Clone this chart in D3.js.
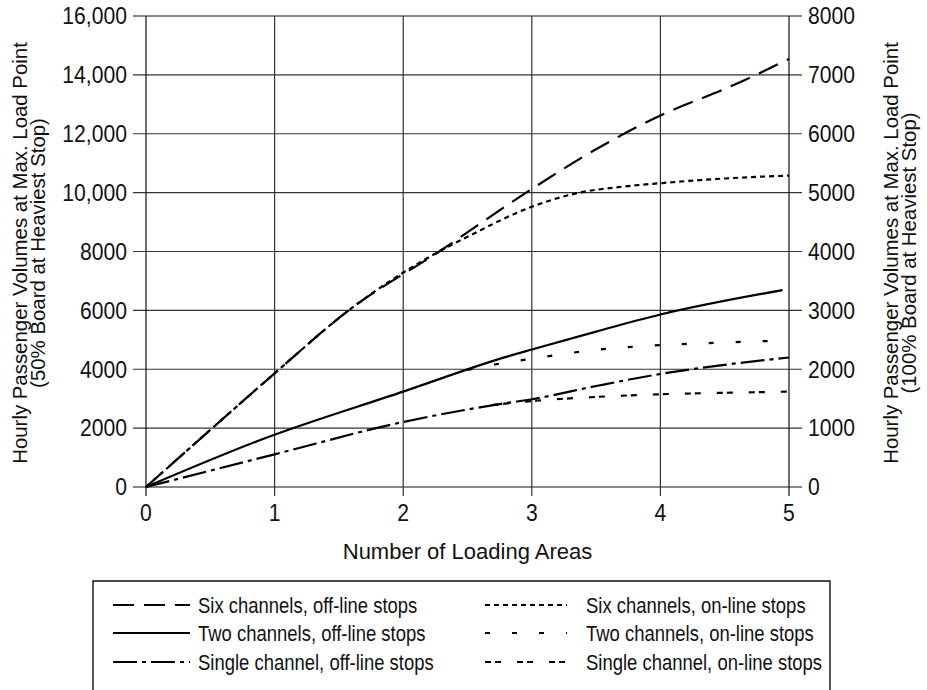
<!DOCTYPE html>
<html>
<head>
<meta charset="utf-8">
<script src="https://cdn.jsdelivr.net/npm/d3@7"></script>
<style>
  html, body { margin: 0; padding: 0; background: #fff; }
  svg { display: block; }
  text { font-family: "Liberation Sans", Arial, sans-serif; fill: #111; }
</style>
</head>
<body>
<svg id="chart" width="927" height="690"></svg>
<script>
// ---- Data ----
const xTicks = [0, 1, 2, 3, 4, 5];
const leftTicks = [0, 2000, 4000, 6000, 8000, 10000, 12000, 14000, 16000];
const leftTickLabels = ["0", "2000", "4000", "6000", "8000", "10,000", "12,000", "14,000", "16,000"];
const rightTicks = [0, 1000, 2000, 3000, 4000, 5000, 6000, 7000, 8000];
const rightTickLabels = ["0", "1000", "2000", "3000", "4000", "5000", "6000", "7000", "8000"];

const sixOffX = [0, 0.5, 1, 1.576, 2.28, 2.956, 3.51, 4.03, 4.5, 5];
const sixOffY = [0, 1940, 3860, 6000, 8000, 10000, 11500, 12680, 13520, 14540];
const sixOnX = [0, 0.5, 1, 1.576, 2.3, 2.5, 3, 3.35, 3.7, 4, 4.5, 5];
const sixOnY = [0, 1940, 3860, 6000, 8050, 8500, 9520, 9980, 10200, 10320, 10480, 10580];
const twoOffX = [0, 0.94, 2, 2.8, 3, 3.5, 4, 4.95];
const twoOffY = [0, 1680, 3240, 4420, 4670, 5280, 5860, 6690];
const twoOnX = [2.5, 2.75, 3, 3.5, 4, 4.5, 4.85];
const twoOnY = [3980, 4190, 4360, 4660, 4820, 4910, 4960];
const singleOffX = [0, 1, 2, 2.8, 3, 3.5, 4, 4.5, 5];
const singleOffY = [0, 1110, 2210, 2850, 2980, 3430, 3840, 4150, 4400];
const singleOnX = [2.7, 3, 3.5, 4, 4.5, 5];
const singleOnY = [2790, 2920, 3060, 3150, 3200, 3240];

const seriesNames = [
  "Six channels, off-line stops", "Two channels, off-line stops", "Single channel, off-line stops",
  "Six channels, on-line stops", "Two channels, on-line stops", "Single channel, on-line stops"
];

const xTitle = "Number of Loading Areas";
const leftTitle = ["Hourly Passenger Volumes at Max. Load Point", "(50% Board at Heaviest Stop)"];
const rightTitle = ["Hourly Passenger Volumes at Max. Load Point", "(100% Board at Heaviest Stop)"];

// ---- Styles ----
const dashes = {
  sixOff: "21,10",
  twoOff: null,
  singleOff: "24,5,4,5",
  sixOn: "5,4",
  twoOn: "5,22",
  singleOn: "6,4,6,16"
};

const series = [
  { key: "sixOff", x: sixOffX, y: sixOffY, name: seriesNames[0] },
  { key: "twoOff", x: twoOffX, y: twoOffY, name: seriesNames[1] },
  { key: "singleOff", x: singleOffX, y: singleOffY, name: seriesNames[2] },
  { key: "sixOn", x: sixOnX, y: sixOnY, name: seriesNames[3] },
  { key: "twoOn", x: twoOnX, y: twoOnY, name: seriesNames[4] },
  { key: "singleOn", x: singleOnX, y: singleOnY, name: seriesNames[5] }
];

const svg = d3.select("#chart");
const L = 146, R = 789, T = 16, B = 487;

const x = d3.scaleLinear().domain([0, 5]).range([L, R]);
const yL = d3.scaleLinear().domain([0, 16000]).range([B, T]);
const yR = d3.scaleLinear().domain([0, 8000]).range([B, T]);

// condensed text helper
function ctext(g, px, py, str, size, sx, anchor) {
  return g.append("text")
    .attr("transform", `translate(${px},${py}) scale(${sx},1)`)
    .attr("text-anchor", anchor || "start")
    .attr("font-size", size)
    .attr("dy", "0.36em")
    .text(str);
}

// grid
const grid = svg.append("g");
grid.selectAll("line.h").data(leftTicks).join("line")
  .attr("x1", L - 13).attr("x2", R + 13)
  .attr("y1", d => yL(d)).attr("y2", d => yL(d))
  .attr("stroke", d => (d === 0 || d === 16000) ? "#111" : "#333")
  .attr("stroke-width", 1.2);
grid.selectAll("line.v").data(xTicks).join("line")
  .attr("x1", d => x(d)).attr("x2", d => x(d))
  .attr("y1", T).attr("y2", B + 9)
  .attr("stroke", d => (d === 0 || d === 5) ? "#111" : "#333")
  .attr("stroke-width", 1.2);

// tick labels
const tg = svg.append("g");
const tickSize = 23, tickScale = 0.92;
leftTicks.forEach((d, i) => ctext(tg, L - 19, yL(d), leftTickLabels[i], tickSize, tickScale, "end"));
rightTicks.forEach((d, i) => ctext(tg, R + 19, yR(d), rightTickLabels[i], tickSize, tickScale, "start"));
xTicks.forEach(d => ctext(tg, x(d), B + 26, String(d), tickSize, tickScale, "middle"));

// axis titles
ctext(svg, (L + R) / 2, 551, xTitle, 22, 1.0, "middle");

const lt = svg.append("text").attr("transform", `translate(27,253) rotate(-90)`)
  .attr("text-anchor", "middle").attr("font-size", 20.4);
lt.append("tspan").attr("x", 0).attr("dy", 0).text(leftTitle[0]);
lt.append("tspan").attr("x", 0).attr("dy", 18).text(leftTitle[1]);

const rt = svg.append("text").attr("transform", `translate(898,253) rotate(-90)`)
  .attr("text-anchor", "middle").attr("font-size", 20.4);
rt.append("tspan").attr("x", 0).attr("dy", 0).text(rightTitle[0]);
rt.append("tspan").attr("x", 0).attr("dy", 18).text(rightTitle[1]);

// lines
const line = d3.line().x(d => x(d[0])).y(d => yL(d[1])).curve(d3.curveMonotoneX);
svg.append("g").selectAll("path").data(series).join("path")
  .attr("d", s => line(s.x.map((v, i) => [v, s.y[i]])))
  .attr("fill", "none").attr("stroke", "#000").attr("stroke-width", 2.2)
  .attr("stroke-dasharray", s => dashes[s.key]);

// legend
const lg = svg.append("g");
lg.append("path").attr("d", "M93,700 V581 H830 V700")
  .attr("fill", "none").attr("stroke", "#111").attr("stroke-width", 1.4);
const rowsY = [605, 633, 662];
series.forEach((s, i) => {
  const col = Math.floor(i / 3), row = i % 3;
  const x0 = col === 0 ? 113 : 485;
  const x1 = col === 0 ? 190 : 567;
  const tx = col === 0 ? 198 : 586;
  lg.append("line").attr("x1", x0).attr("x2", x1).attr("y1", rowsY[row]).attr("y2", rowsY[row])
    .attr("stroke", "#000").attr("stroke-width", 2).attr("stroke-dasharray", dashes[s.key]);
  ctext(lg, tx, rowsY[row], s.name, 22, 0.84, "start");
});
</script>
</body>
</html>
